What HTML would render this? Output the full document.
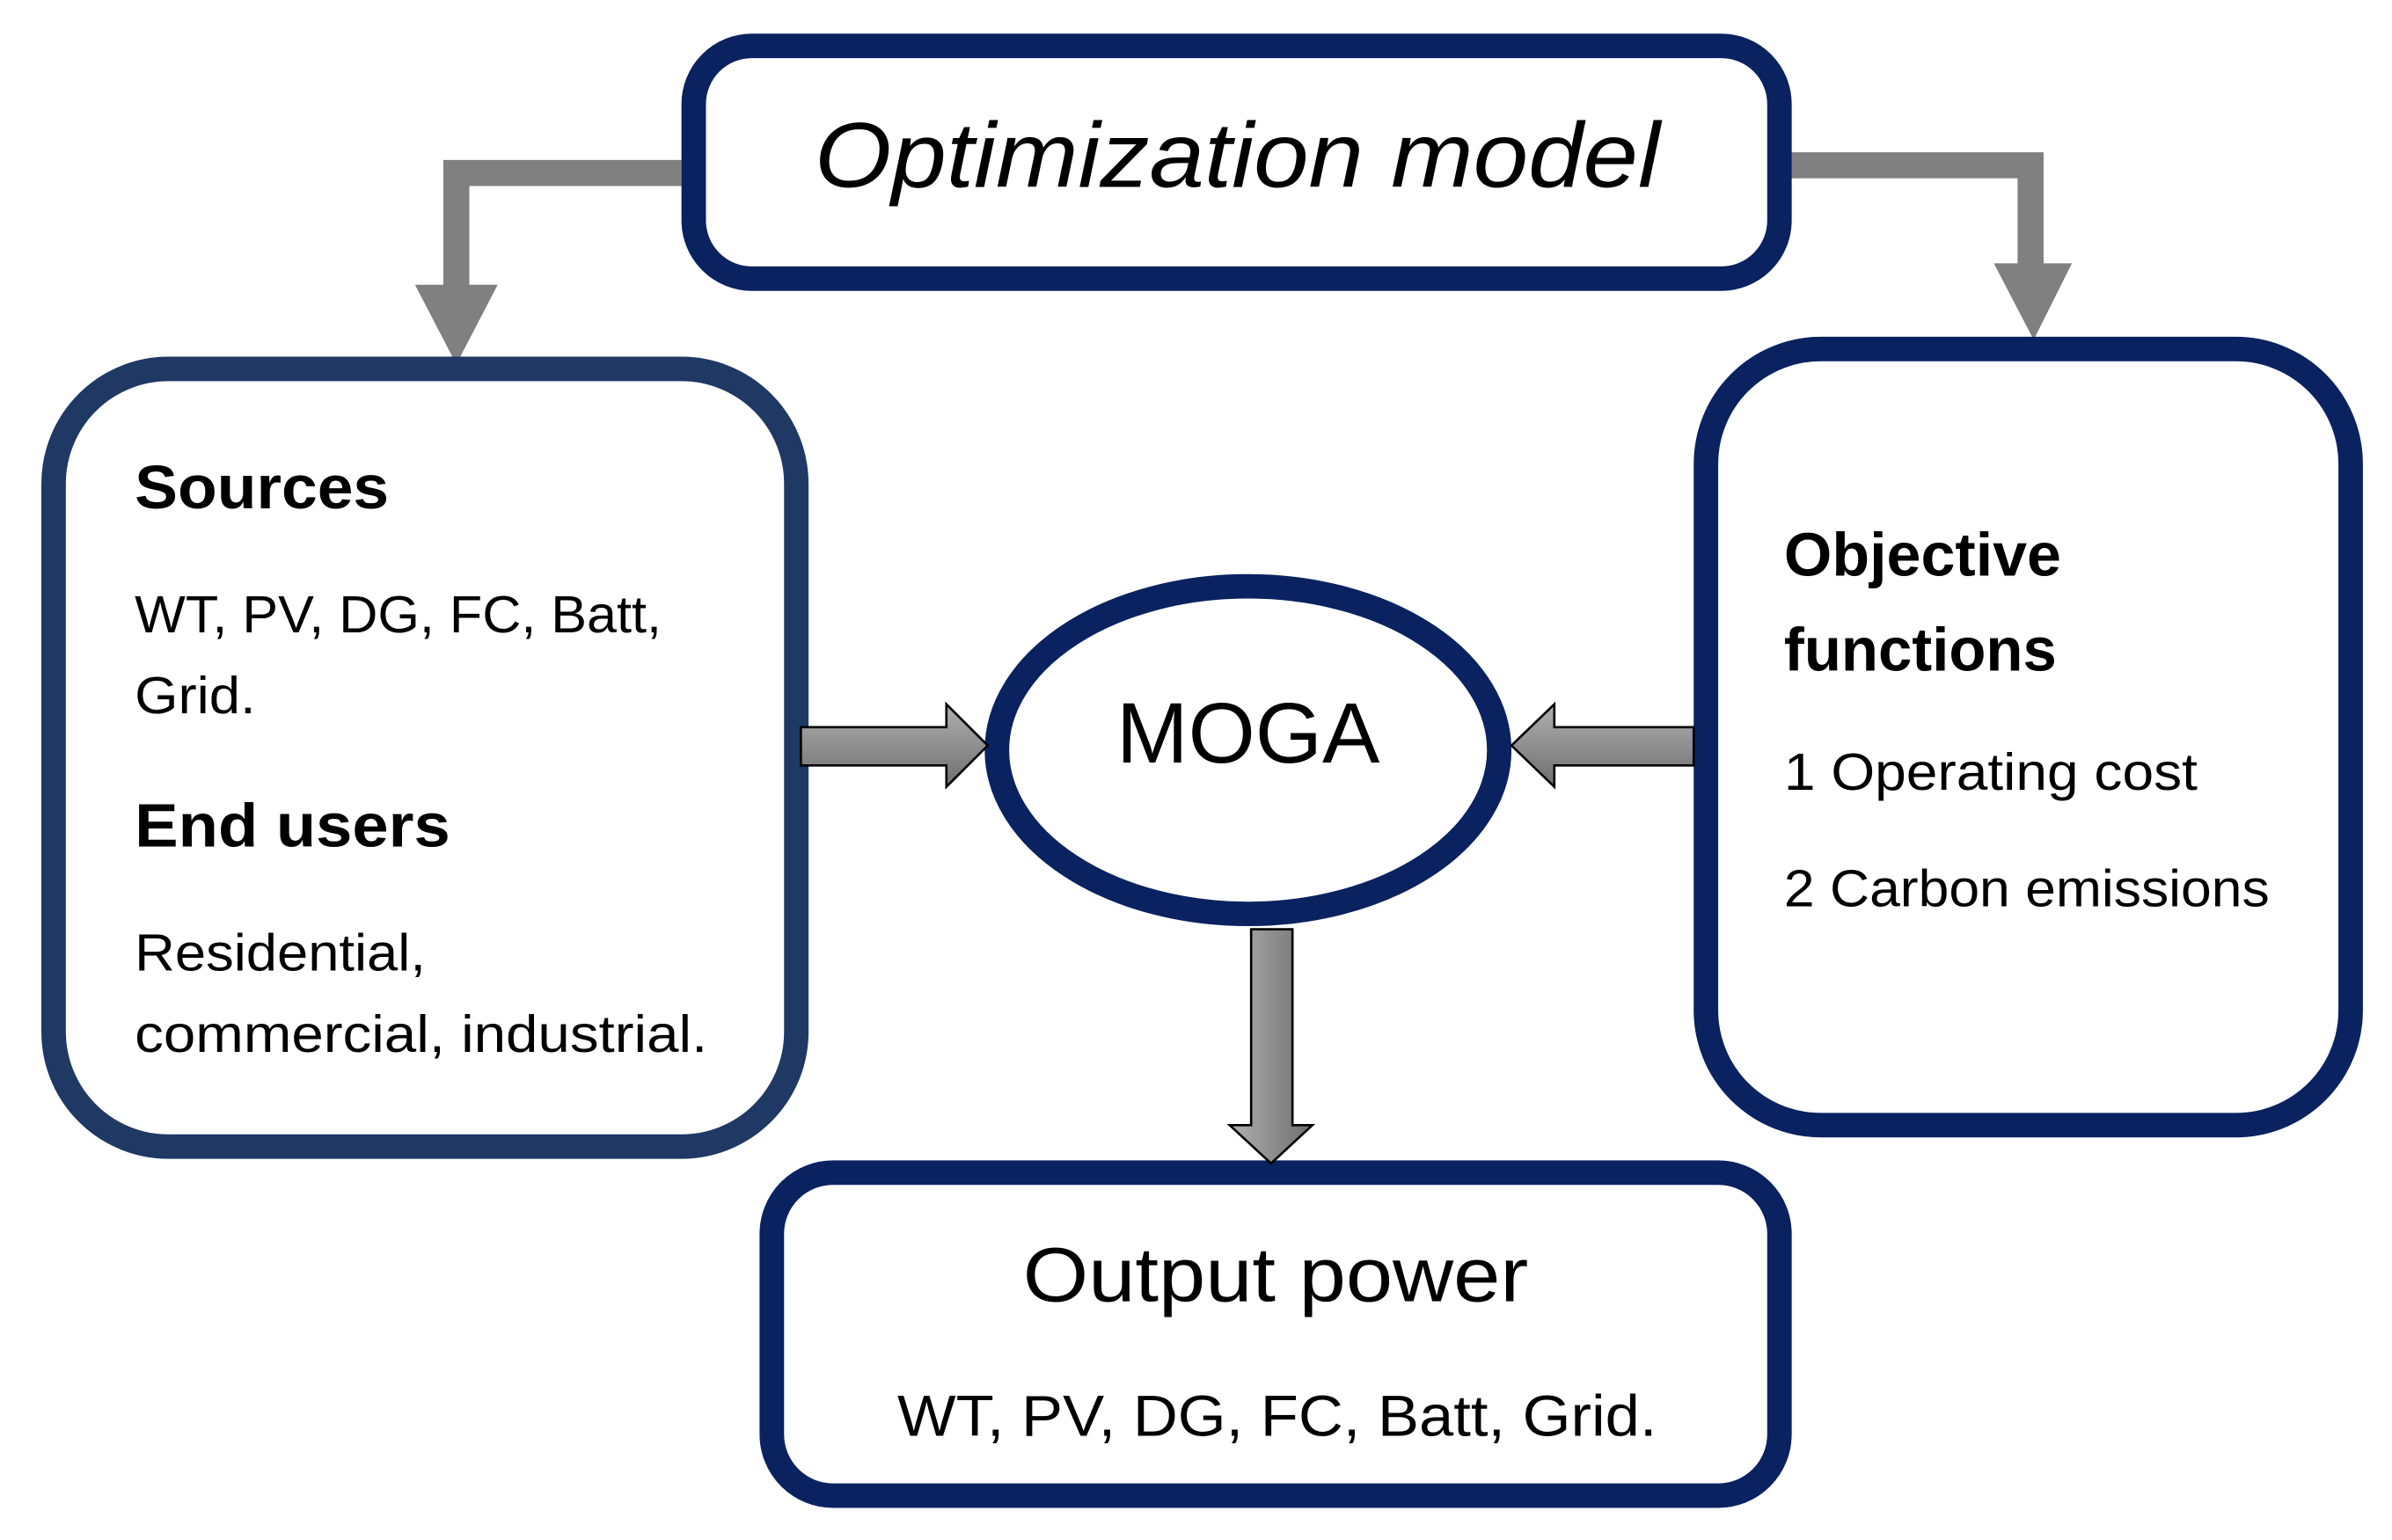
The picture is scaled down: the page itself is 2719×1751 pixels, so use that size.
<!DOCTYPE html>
<html><head><meta charset="utf-8">
<style>
html,body{margin:0;padding:0;background:#fff;}
svg{display:block;}
text{font-family:"Liberation Sans",sans-serif;fill:#000;}
</style></head>
<body>
<svg width="2719" height="1751" viewBox="0 0 1562 1006" preserveAspectRatio="none" xmlns="http://www.w3.org/2000/svg">
<defs>
<linearGradient id="gh" x1="0" y1="0" x2="0" y2="1"><stop offset="0" stop-color="#b0b0b0"/><stop offset="1" stop-color="#6e6e6e"/></linearGradient>
<linearGradient id="gv" x1="0" y1="0" x2="1" y2="0"><stop offset="0" stop-color="#b0b0b0"/><stop offset="1" stop-color="#6e6e6e"/></linearGradient>
</defs>
<!-- gray elbow arrows -->
<polyline points="445,113 298,113 298,190" fill="none" stroke="#808080" stroke-width="17"/>
<polygon points="271,186 325,186 298,238" fill="#808080"/>
<polyline points="1163,108 1326,108 1326,174" fill="none" stroke="#808080" stroke-width="17"/>
<polygon points="1302,172 1353,172 1328,222" fill="#808080"/>
<!-- boxes -->
<rect x="453" y="30" width="709" height="152" rx="38" fill="#fff" stroke="#0a2260" stroke-width="16"/>
<rect x="35" y="241" width="485" height="508" rx="75" fill="#fff" stroke="#1f3864" stroke-width="16"/>
<rect x="1114" y="228" width="421" height="507" rx="75" fill="#fff" stroke="#0a2260" stroke-width="16"/>
<rect x="504" y="766" width="658" height="211" rx="40" fill="#fff" stroke="#0a2260" stroke-width="16"/>
<ellipse cx="815" cy="490" rx="164" ry="107" fill="#fff" stroke="#0a2260" stroke-width="16"/>
<!-- block arrows -->
<polygon points="523,475 618,475 618,460 645,487 618,514 618,500 523,500" fill="url(#gh)" stroke="#000" stroke-width="1.5"/>
<polygon points="1106,475 1015,475 1015,460 987,487 1015,514 1015,500 1106,500" fill="url(#gh)" stroke="#000" stroke-width="1.5"/>
<polygon points="817,607 844,607 844,735 857,735 830,760 803,735 817,735" fill="url(#gv)" stroke="#000" stroke-width="1.5"/>
<!-- text -->
<text x="808" y="122" font-size="60" font-style="italic" text-anchor="middle" textLength="552" lengthAdjust="spacingAndGlyphs">Optimization model</text>
<text x="88" y="332" font-size="40" font-weight="bold" textLength="166" lengthAdjust="spacingAndGlyphs">Sources</text>
<text x="88" y="413" font-size="34" textLength="344" lengthAdjust="spacingAndGlyphs">WT, PV, DG, FC, Batt,</text>
<text x="88" y="466" font-size="34" textLength="79" lengthAdjust="spacingAndGlyphs">Grid.</text>
<text x="88" y="553" font-size="40" font-weight="bold" textLength="206" lengthAdjust="spacingAndGlyphs">End users</text>
<text x="88" y="634" font-size="34" textLength="190" lengthAdjust="spacingAndGlyphs">Residential,</text>
<text x="88" y="687" font-size="34" textLength="374" lengthAdjust="spacingAndGlyphs">commercial, industrial.</text>
<text x="1165" y="376" font-size="40" font-weight="bold" textLength="181" lengthAdjust="spacingAndGlyphs">Objective</text>
<text x="1165" y="438" font-size="40" font-weight="bold" textLength="178" lengthAdjust="spacingAndGlyphs">functions</text>
<text x="1165" y="516" font-size="34" textLength="270" lengthAdjust="spacingAndGlyphs">1 Operating cost</text>
<text x="1165" y="592" font-size="34" textLength="317" lengthAdjust="spacingAndGlyphs">2 Carbon emissions</text>
<text x="815" y="498" font-size="56" text-anchor="middle" textLength="172" lengthAdjust="spacingAndGlyphs">MOGA</text>
<text x="833" y="850" font-size="50" text-anchor="middle" textLength="330" lengthAdjust="spacingAndGlyphs">Output power</text>
<text x="834" y="938" font-size="38" text-anchor="middle" textLength="496" lengthAdjust="spacingAndGlyphs">WT, PV, DG, FC, Batt, Grid.</text>
</svg>
</body></html>
